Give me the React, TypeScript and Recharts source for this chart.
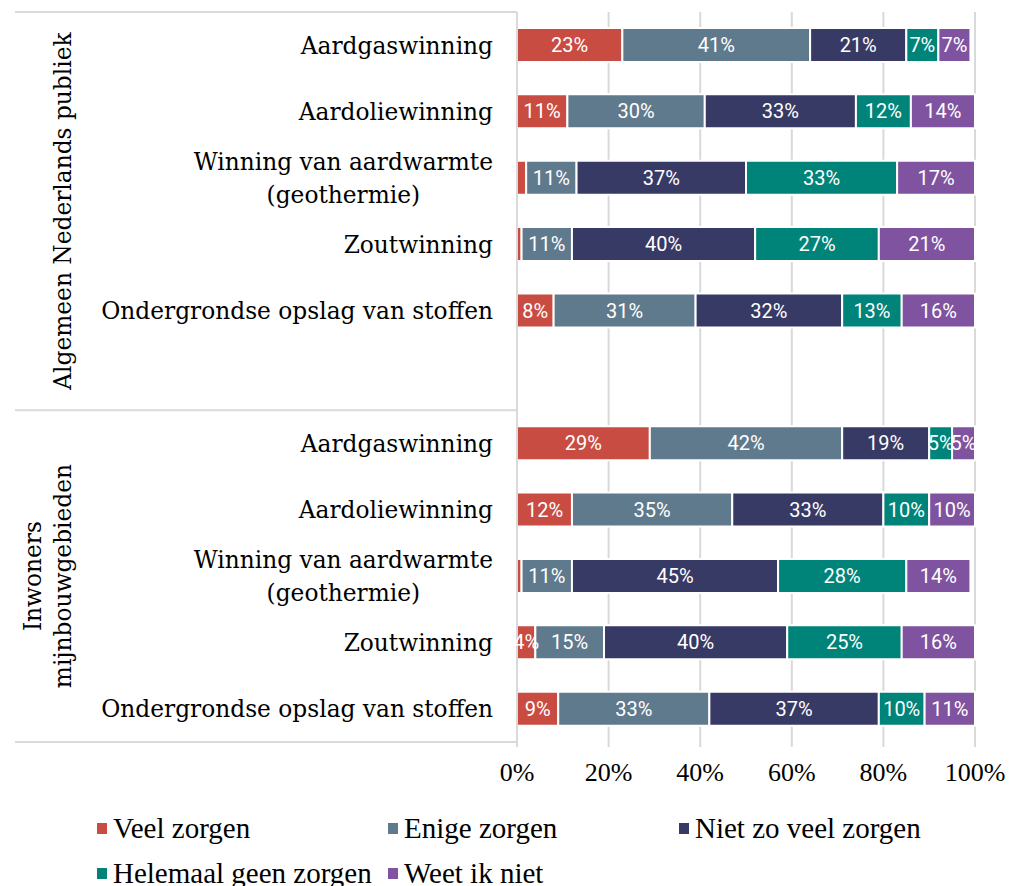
import React from 'react';
import { BarChart, Bar, XAxis, YAxis, CartesianGrid, Legend, LabelList } from 'recharts';

const groups = ['Algemeen Nederlands publiek', 'Inwoners\nmijnbouwgebieden'];
const categories = [
  'Aardgaswinning',
  'Aardoliewinning',
  'Winning van aardwarmte\n(geothermie)',
  'Zoutwinning',
  'Ondergrondse opslag van stoffen',
];
const seriesNames = ['Veel zorgen', 'Enige zorgen', 'Niet zo veel zorgen', 'Helemaal geen zorgen', 'Weet ik niet'];
const seriesColors = ['#C94C43', '#607A8D', '#383A66', '#00847A', '#7F539F'];

// first 5 = Algemeen Nederlands publiek, last 5 = Inwoners mijnbouwgebieden
const veelZorgen = [23, 11, 2, 1, 8, 29, 12, 1, 4, 9];
const enigeZorgen = [41, 30, 11, 11, 31, 42, 35, 11, 15, 33];
const nietZoVeel = [21, 33, 37, 40, 32, 19, 33, 45, 40, 37];
const helemaalGeen = [7, 12, 33, 27, 13, 5, 10, 28, 25, 10];
const weetNiet = [7, 14, 17, 21, 16, 5, 10, 14, 16, 11];
const xTicks = [0, 20, 40, 60, 80, 100];

const seriesValues = [veelZorgen, enigeZorgen, nietZoVeel, helemaalGeen, weetNiet];
const keys = ['s0', 's1', 's2', 's3', 's4'];

type Row = { id: string; label: string; group: number; first: boolean; [k: string]: any };
const rows: Row[] = [];
groups.forEach((g, gi) => {
  categories.forEach((c, ci) => {
    const idx = gi * categories.length + ci;
    const r: Row = { id: `${gi}-${ci}`, label: c, group: gi, first: ci === 0 };
    keys.forEach((k, si) => (r[k] = seriesValues[si][idx]));
    rows.push(r);
  });
  // empty row after the first group
  if (gi === 0) rows.push({ id: 'gap', label: '', group: 0, first: false });
});

const W = 1012;
const H = 886;
const MARGIN = { top: 12, right: 37, left: 0, bottom: 0 };
const Y_W = 517;
const X_H = 64;
const LEGEND_H = 80;
const PLOT_H = H - MARGIN.top - MARGIN.bottom - X_H - LEGEND_H;
const BAND = PLOT_H / rows.length;

const LABEL_FONT = '"DejaVu Serif", serif';
const LABEL_SIZE = 23.3;
const AXIS_FONT = '"Liberation Serif", serif';
const LINE = '#d9d9d9';

let ctx: CanvasRenderingContext2D | null = null;
const measure = (text: string) => {
  if (!ctx) ctx = document.createElement('canvas').getContext('2d');
  if (!ctx) return text.length * LABEL_SIZE * 0.6;
  ctx.font = `${LABEL_SIZE}px ${LABEL_FONT}`;
  return ctx.measureText(text).width;
};

const CategoryTick = (props: any) => {
  const { x, y, payload } = props;
  const row = rows.find((r) => r.id === payload.value);
  if (!row) return null;
  const lines = row.label ? row.label.split('\n') : [];
  const lh = 33;
  const y0 = y - ((lines.length - 1) * lh) / 2;
  const w0 = lines.length ? measure(lines[0]) : 0;

  let extra = null;
  if (row.first) {
    const size = rows.filter((r) => r.group === row.group).length;
    const top = y - BAND / 2;
    const mid = top + (size * BAND) / 2;
    const glines = groups[row.group].split('\n');
    const isLast = row.group === groups.length - 1;
    extra = (
      <g>
        <line x1={15} x2={Y_W} y1={top} y2={top} stroke={LINE} strokeWidth={2} />
        {isLast && <line x1={15} x2={Y_W} y1={top + size * BAND} y2={top + size * BAND} stroke={LINE} strokeWidth={2} />}
        {glines.map((t, i) => {
          const gx = 63 - (glines.length - 1 - i) * 30;
          return (
            <text
              key={i}
              x={gx}
              y={mid}
              transform={`rotate(-90, ${gx}, ${mid})`}
              textAnchor="middle"
              dominantBaseline="central"
              fontFamily={LABEL_FONT}
              fontSize={LABEL_SIZE}
              fill="#000"
            >
              {t}
            </text>
          );
        })}
      </g>
    );
  }

  return (
    <g>
      {extra}
      {lines.map((t, i) => (
        <text
          key={i}
          x={i === 0 ? x : x - w0 / 2}
          y={y0 + i * lh}
          textAnchor={i === 0 ? 'end' : 'middle'}
          dominantBaseline="central"
          fontFamily={LABEL_FONT}
          fontSize={LABEL_SIZE}
          fill="#000"
        >
          {t}
        </text>
      ))}
    </g>
  );
};

const LegendContent = () => (
  <div
    style={{
      height: LEGEND_H,
      paddingLeft: 97,
      display: 'grid',
      gridTemplateColumns: 'repeat(3, 291px)',
      gridAutoRows: '45px',
      alignItems: 'center',
      fontFamily: AXIS_FONT,
      fontSize: 29,
      color: '#000',
    }}
  >
    {seriesNames.map((n, i) => (
      <div key={n} style={{ display: 'flex', alignItems: 'center', whiteSpace: 'nowrap' }}>
        <span style={{ width: 10, height: 11, background: seriesColors[i], marginRight: 6, display: 'inline-block' }} />
        {n}
      </div>
    ))}
  </div>
);

export default function App() {
  return (
    <div style={{ position: 'absolute', left: 0, top: 0, background: '#fff' }}>
      <BarChart width={W} height={H} data={rows} layout="vertical" margin={MARGIN} barSize={34}>
        <CartesianGrid horizontal={false} stroke={LINE} strokeWidth={2} />
        <XAxis
          type="number"
          domain={[0, 100]}
          ticks={xTicks}
          tickFormatter={(v) => `${v}%`}
          height={X_H}
          axisLine={false}
          tickLine={{ stroke: LINE, strokeWidth: 2 }}
          tickSize={5}
          tickMargin={16}
          tick={{ fontFamily: AXIS_FONT, fontSize: 26, fill: '#000' }}
        />
        <YAxis
          type="category"
          dataKey="id"
          width={Y_W}
          axisLine={{ stroke: LINE, strokeWidth: 2 }}
          tickLine={false}
          tickSize={0}
          tickMargin={24}
          interval={0}
          tick={<CategoryTick />}
        />
        <Legend verticalAlign="bottom" wrapperStyle={{ left: 0, width: W }} content={<LegendContent />} />
        {keys.map((k, i) => (
          <Bar key={k} dataKey={k} name={seriesNames[i]} stackId="a" fill={seriesColors[i]} stroke="#fff" strokeWidth={2} isAnimationActive={false}>
            <LabelList
              dataKey={k}
              position="center"
              fill="#fff"
              fontFamily="Roboto, sans-serif"
              fontSize={20}
              formatter={(v: any) => (typeof v === 'number' && v >= 3 ? `${v}%` : '')}
            />
          </Bar>
        ))}
      </BarChart>
    </div>
  );
}
